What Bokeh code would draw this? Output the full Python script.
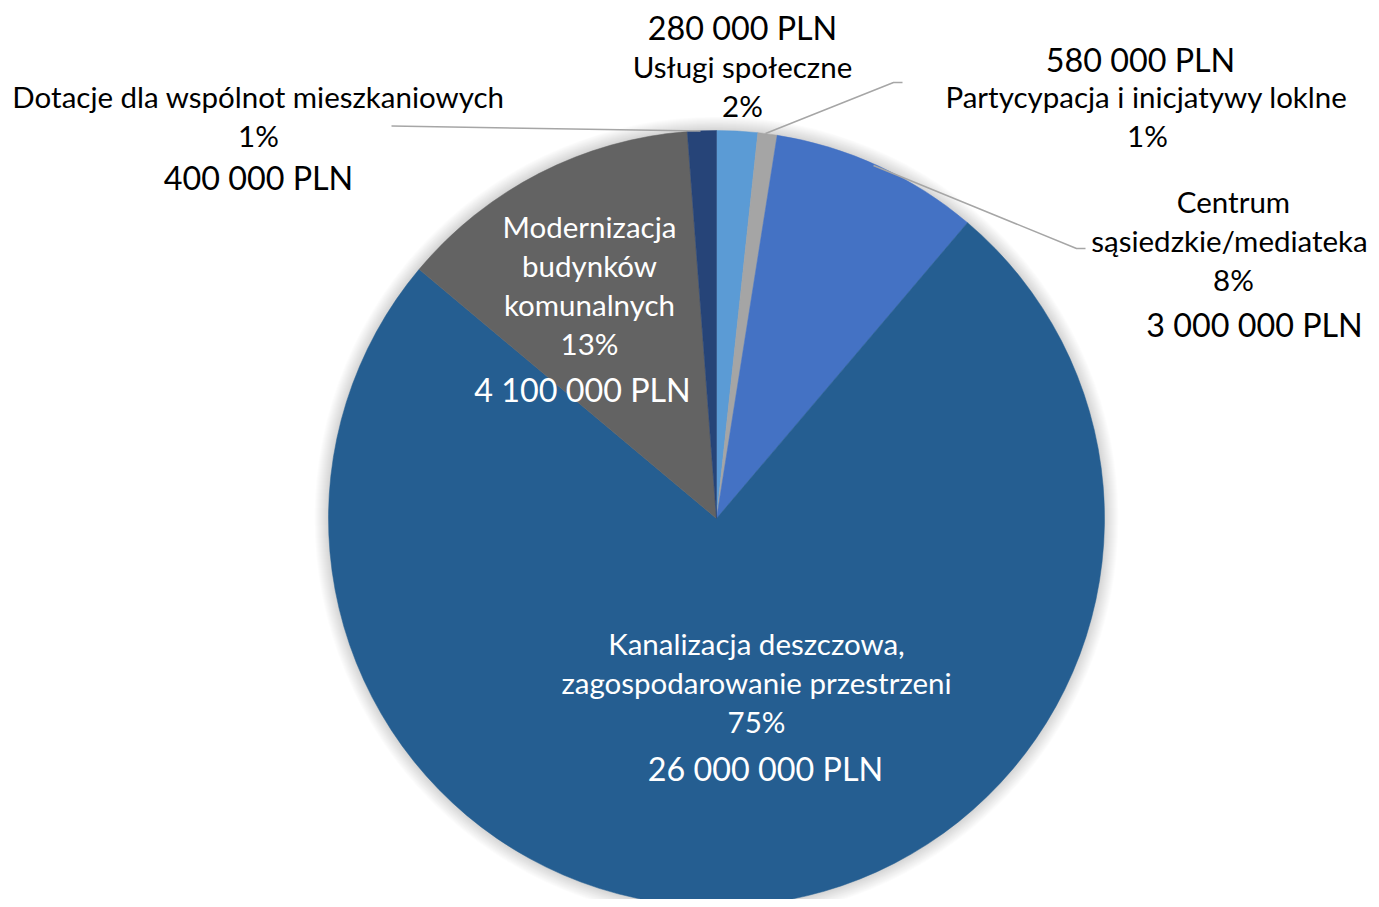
import numpy as np
from bokeh.plotting import figure
from bokeh.models import Range1d, ColumnDataSource
from bokeh.core.properties import value
from bokeh.embed import file_html
from bokeh.resources import INLINE

# ---- data (clockwise from 12 o'clock) ----
categories = ["Usługi społeczne", "Partycypacja i inicjatywy loklne",
              "Centrum sąsiedzkie/mediateka",
              "Kanalizacja deszczowa, zagospodarowanie przestrzeni",
              "Modernizacja budynków komunalnych",
              "Dotacje dla wspólnot mieszkaniowych"]
shares = [1.7, 0.8, 8.7, 74.9, 12.7, 1.2]          # slice size, %
pct_labels = ["2%", "1%", "8%", "75%", "13%", "1%"]
amount_labels = ["280 000 PLN", "580 000 PLN", "3 000 000 PLN",
                 "26 000 000 PLN", "4 100 000 PLN", "400 000 PLN"]
colors = ["#5B9BD5", "#A5A5A5", "#4472C4", "#255E91", "#636363", "#264478"]

# ---- layout ----
W, H = 1371, 899
IMG_H = 907
def Y(sy):  # screen y -> data y
    return IMG_H - sy

CX, CY, R = 716, Y(518), 388
FONT = value("Lato")
CAT_SIZE = "29.5px"
AMT_SIZE = "32.3px"

p = figure(width=W, height=H, output_backend="svg", toolbar_location=None,
           x_range=Range1d(0, W), y_range=Range1d(IMG_H - H, IMG_H),
           min_border=0, x_axis_location=None, y_axis_location=None)
p.grid.visible = False
p.outline_line_color = None
p.background_fill_color = "white"
p.border_fill_color = "white"

# soft shadow around pie
for k in range(14, 0, -1):
    p.circle(x=[CX], y=[CY], radius=R + k, fill_color="black", fill_alpha=0.013,
             line_color=None)

frac = np.array(shares) / sum(shares)
c1 = np.cumsum(frac)
c0 = c1 - frac
src = ColumnDataSource(dict(
    start=np.pi / 2 - 2 * np.pi * c1,
    end=np.pi / 2 - 2 * np.pi * c0,
    color=colors, cat=categories))
p.wedge(x=CX, y=CY, radius=R, start_angle="start", end_angle="end",
        direction="anticlock", fill_color="color", line_color="color",
        line_width=0.5, source=src)

# leader lines
line_col = "#A6A6A6"
p.line(x=[391, 700], y=[Y(125.5), Y(130.5)], line_color=line_col, line_width=1.5)
p.line(x=[765, 893, 902], y=[Y(133), Y(82), Y(82)], line_color=line_col, line_width=1.5)
p.line(x=[873, 1076, 1085], y=[Y(165), Y(248), Y(248)], line_color=line_col, line_width=1.5)

# labels: (text, x, screen y, size, color)
labels = []
def add(t, x, sy, size, col):
    labels.append((t, x, Y(sy), size, col))

# Usługi społeczne
add(amount_labels[0], 742, 27, AMT_SIZE, "black")
add("Usługi społeczne", 742, 66, CAT_SIZE, "black")
add(pct_labels[0], 742, 105, CAT_SIZE, "black")
# Partycypacja
add(amount_labels[1], 1140, 59, AMT_SIZE, "black")
add("Partycypacja i inicjatywy loklne", 1146, 96, CAT_SIZE, "black")
add(pct_labels[1], 1147, 135, CAT_SIZE, "black")
# Centrum
add("Centrum", 1233, 201, CAT_SIZE, "black")
add("sąsiedzkie/mediateka", 1229, 240, CAT_SIZE, "black")
add(pct_labels[2], 1233, 279, CAT_SIZE, "black")
add(amount_labels[2], 1254, 324, AMT_SIZE, "black")
# Kanalizacja
add("Kanalizacja deszczowa,", 756, 643, CAT_SIZE, "white")
add("zagospodarowanie przestrzeni", 756, 682, CAT_SIZE, "white")
add(pct_labels[3], 756, 721, CAT_SIZE, "white")
add(amount_labels[3], 765, 768, AMT_SIZE, "white")
# Modernizacja
add("Modernizacja", 589, 226, CAT_SIZE, "white")
add("budynków", 589, 265, CAT_SIZE, "white")
add("komunalnych", 589, 304, CAT_SIZE, "white")
add(pct_labels[4], 589, 343, CAT_SIZE, "white")
add(amount_labels[4], 582, 389, AMT_SIZE, "white")
# Dotacje
add("Dotacje dla wspólnot mieszkaniowych", 258, 96, CAT_SIZE, "black")
add(pct_labels[5], 258, 135, CAT_SIZE, "black")
add(amount_labels[5], 258, 177, AMT_SIZE, "black")

lsrc = ColumnDataSource(dict(
    text=[l[0] for l in labels], x=[l[1] for l in labels], y=[l[2] for l in labels],
    size=[l[3] for l in labels], color=[l[4] for l in labels]))
p.text(x="x", y="y", text="text", text_font=FONT, text_font_size="size",
       text_color="color", text_align="center", text_baseline="middle", source=lsrc)

open("out.html", "w").write(file_html(p, INLINE))
